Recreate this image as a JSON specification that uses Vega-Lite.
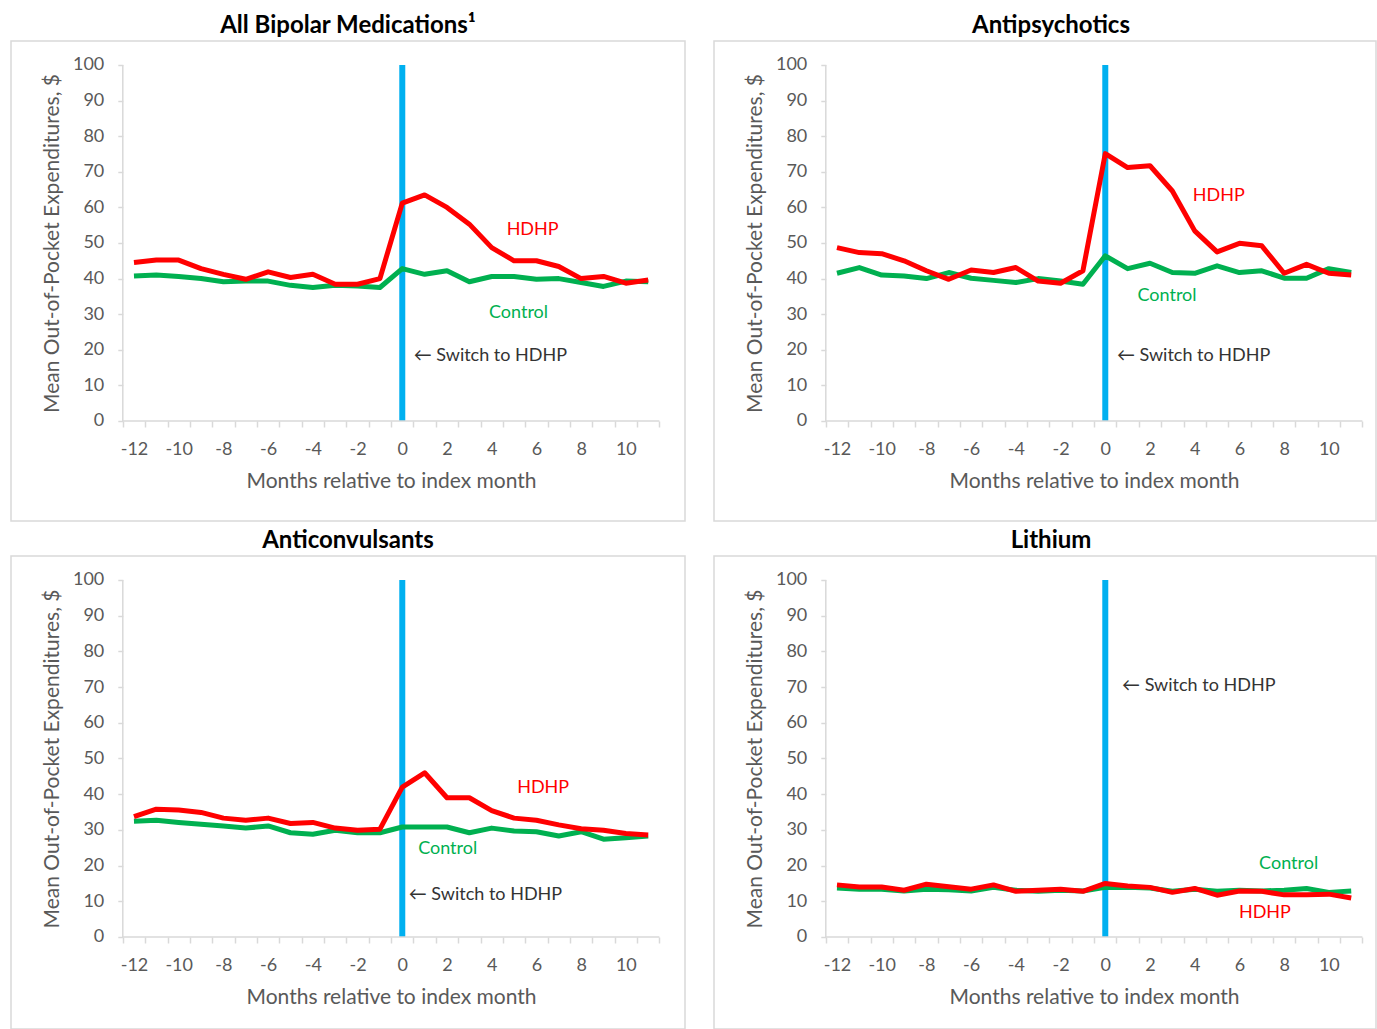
{
"$schema": "https://vega.github.io/schema/vega-lite/v6.json",
"padding": {"left": 10, "top": 13, "right": 0, "bottom": 0},
"background": "#ffffff",
"spacing": 6,
"datasets": {
"pts": [
{"panel":"A","month":-12,"series":"HDHP","value":44.5},{"panel":"A","month":-11,"series":"HDHP","value":45.2},{"panel":"A","month":-10,"series":"HDHP","value":45.2},{"panel":"A","month":-9,"series":"HDHP","value":42.8},{"panel":"A","month":-8,"series":"HDHP","value":41.2},{"panel":"A","month":-7,"series":"HDHP","value":39.8},{"panel":"A","month":-6,"series":"HDHP","value":41.9},{"panel":"A","month":-5,"series":"HDHP","value":40.3},{"panel":"A","month":-4,"series":"HDHP","value":41.2},{"panel":"A","month":-3,"series":"HDHP","value":38.4},{"panel":"A","month":-2,"series":"HDHP","value":38.4},{"panel":"A","month":-1,"series":"HDHP","value":40.0},{"panel":"A","month":0,"series":"HDHP","value":61.2},{"panel":"A","month":1,"series":"HDHP","value":63.5},{"panel":"A","month":2,"series":"HDHP","value":60.0},{"panel":"A","month":3,"series":"HDHP","value":55.3},{"panel":"A","month":4,"series":"HDHP","value":48.7},{"panel":"A","month":5,"series":"HDHP","value":45.0},{"panel":"A","month":6,"series":"HDHP","value":45.0},{"panel":"A","month":7,"series":"HDHP","value":43.4},{"panel":"A","month":8,"series":"HDHP","value":40.0},{"panel":"A","month":9,"series":"HDHP","value":40.6},{"panel":"A","month":10,"series":"HDHP","value":38.7},{"panel":"A","month":11,"series":"HDHP","value":39.6},
{"panel":"A","month":-12,"series":"Control","value":40.7},{"panel":"A","month":-11,"series":"Control","value":41.0},{"panel":"A","month":-10,"series":"Control","value":40.6},{"panel":"A","month":-9,"series":"Control","value":40.0},{"panel":"A","month":-8,"series":"Control","value":39.1},{"panel":"A","month":-7,"series":"Control","value":39.3},{"panel":"A","month":-6,"series":"Control","value":39.3},{"panel":"A","month":-5,"series":"Control","value":38.1},{"panel":"A","month":-4,"series":"Control","value":37.5},{"panel":"A","month":-3,"series":"Control","value":38.1},{"panel":"A","month":-2,"series":"Control","value":37.9},{"panel":"A","month":-1,"series":"Control","value":37.5},{"panel":"A","month":0,"series":"Control","value":42.8},{"panel":"A","month":1,"series":"Control","value":41.2},{"panel":"A","month":2,"series":"Control","value":42.2},{"panel":"A","month":3,"series":"Control","value":39.1},{"panel":"A","month":4,"series":"Control","value":40.6},{"panel":"A","month":5,"series":"Control","value":40.6},{"panel":"A","month":6,"series":"Control","value":39.8},{"panel":"A","month":7,"series":"Control","value":40.0},{"panel":"A","month":8,"series":"Control","value":38.9},{"panel":"A","month":9,"series":"Control","value":37.8},{"panel":"A","month":10,"series":"Control","value":39.3},{"panel":"A","month":11,"series":"Control","value":39.1},
{"panel":"B","month":-12,"series":"HDHP","value":48.7},{"panel":"B","month":-11,"series":"HDHP","value":47.3},{"panel":"B","month":-10,"series":"HDHP","value":47.0},{"panel":"B","month":-9,"series":"HDHP","value":45.0},{"panel":"B","month":-8,"series":"HDHP","value":42.2},{"panel":"B","month":-7,"series":"HDHP","value":39.8},{"panel":"B","month":-6,"series":"HDHP","value":42.4},{"panel":"B","month":-5,"series":"HDHP","value":41.7},{"panel":"B","month":-4,"series":"HDHP","value":43.1},{"panel":"B","month":-3,"series":"HDHP","value":39.3},{"panel":"B","month":-2,"series":"HDHP","value":38.7},{"panel":"B","month":-1,"series":"HDHP","value":42.2},{"panel":"B","month":0,"series":"HDHP","value":75.1},{"panel":"B","month":1,"series":"HDHP","value":71.2},{"panel":"B","month":2,"series":"HDHP","value":71.7},{"panel":"B","month":3,"series":"HDHP","value":64.6},{"panel":"B","month":4,"series":"HDHP","value":53.4},{"panel":"B","month":5,"series":"HDHP","value":47.5},{"panel":"B","month":6,"series":"HDHP","value":49.9},{"panel":"B","month":7,"series":"HDHP","value":49.2},{"panel":"B","month":8,"series":"HDHP","value":41.5},{"panel":"B","month":9,"series":"HDHP","value":44.0},{"panel":"B","month":10,"series":"HDHP","value":41.5},{"panel":"B","month":11,"series":"HDHP","value":41.0},
{"panel":"B","month":-12,"series":"Control","value":41.5},{"panel":"B","month":-11,"series":"Control","value":43.1},{"panel":"B","month":-10,"series":"Control","value":41.0},{"panel":"B","month":-9,"series":"Control","value":40.7},{"panel":"B","month":-8,"series":"Control","value":40.0},{"panel":"B","month":-7,"series":"Control","value":41.7},{"panel":"B","month":-6,"series":"Control","value":40.1},{"panel":"B","month":-5,"series":"Control","value":39.5},{"panel":"B","month":-4,"series":"Control","value":38.9},{"panel":"B","month":-3,"series":"Control","value":40.0},{"panel":"B","month":-2,"series":"Control","value":39.3},{"panel":"B","month":-1,"series":"Control","value":38.4},{"panel":"B","month":0,"series":"Control","value":46.4},{"panel":"B","month":1,"series":"Control","value":42.8},{"panel":"B","month":2,"series":"Control","value":44.3},{"panel":"B","month":3,"series":"Control","value":41.7},{"panel":"B","month":4,"series":"Control","value":41.5},{"panel":"B","month":5,"series":"Control","value":43.6},{"panel":"B","month":6,"series":"Control","value":41.7},{"panel":"B","month":7,"series":"Control","value":42.2},{"panel":"B","month":8,"series":"Control","value":40.1},{"panel":"B","month":9,"series":"Control","value":40.1},{"panel":"B","month":10,"series":"Control","value":42.8},{"panel":"B","month":11,"series":"Control","value":41.7},
{"panel":"C","month":-12,"series":"HDHP","value":33.7},{"panel":"C","month":-11,"series":"HDHP","value":35.8},{"panel":"C","month":-10,"series":"HDHP","value":35.6},{"panel":"C","month":-9,"series":"HDHP","value":34.9},{"panel":"C","month":-8,"series":"HDHP","value":33.3},{"panel":"C","month":-7,"series":"HDHP","value":32.7},{"panel":"C","month":-6,"series":"HDHP","value":33.3},{"panel":"C","month":-5,"series":"HDHP","value":31.8},{"panel":"C","month":-4,"series":"HDHP","value":32.1},{"panel":"C","month":-3,"series":"HDHP","value":30.5},{"panel":"C","month":-2,"series":"HDHP","value":29.9},{"panel":"C","month":-1,"series":"HDHP","value":30.2},{"panel":"C","month":0,"series":"HDHP","value":42.0},{"panel":"C","month":1,"series":"HDHP","value":46.0},{"panel":"C","month":2,"series":"HDHP","value":39.0},{"panel":"C","month":3,"series":"HDHP","value":39.0},{"panel":"C","month":4,"series":"HDHP","value":35.4},{"panel":"C","month":5,"series":"HDHP","value":33.3},{"panel":"C","month":6,"series":"HDHP","value":32.7},{"panel":"C","month":7,"series":"HDHP","value":31.4},{"panel":"C","month":8,"series":"HDHP","value":30.3},{"panel":"C","month":9,"series":"HDHP","value":29.9},{"panel":"C","month":10,"series":"HDHP","value":29.0},{"panel":"C","month":11,"series":"HDHP","value":28.6},
{"panel":"C","month":-12,"series":"Control","value":32.4},{"panel":"C","month":-11,"series":"Control","value":32.7},{"panel":"C","month":-10,"series":"Control","value":32.1},{"panel":"C","month":-9,"series":"Control","value":31.6},{"panel":"C","month":-8,"series":"Control","value":31.1},{"panel":"C","month":-7,"series":"Control","value":30.5},{"panel":"C","month":-6,"series":"Control","value":31.1},{"panel":"C","month":-5,"series":"Control","value":29.2},{"panel":"C","month":-4,"series":"Control","value":28.8},{"panel":"C","month":-3,"series":"Control","value":29.9},{"panel":"C","month":-2,"series":"Control","value":29.2},{"panel":"C","month":-1,"series":"Control","value":29.2},{"panel":"C","month":0,"series":"Control","value":30.8},{"panel":"C","month":1,"series":"Control","value":30.8},{"panel":"C","month":2,"series":"Control","value":30.8},{"panel":"C","month":3,"series":"Control","value":29.2},{"panel":"C","month":4,"series":"Control","value":30.5},{"panel":"C","month":5,"series":"Control","value":29.7},{"panel":"C","month":6,"series":"Control","value":29.5},{"panel":"C","month":7,"series":"Control","value":28.3},{"panel":"C","month":8,"series":"Control","value":29.5},{"panel":"C","month":9,"series":"Control","value":27.4},{"panel":"C","month":10,"series":"Control","value":27.8},{"panel":"C","month":11,"series":"Control","value":28.3},
{"panel":"D","month":-12,"series":"HDHP","value":14.6},{"panel":"D","month":-11,"series":"HDHP","value":14.0},{"panel":"D","month":-10,"series":"HDHP","value":14.0},{"panel":"D","month":-9,"series":"HDHP","value":13.1},{"panel":"D","month":-8,"series":"HDHP","value":14.8},{"panel":"D","month":-7,"series":"HDHP","value":14.1},{"panel":"D","month":-6,"series":"HDHP","value":13.4},{"panel":"D","month":-5,"series":"HDHP","value":14.6},{"panel":"D","month":-4,"series":"HDHP","value":12.8},{"panel":"D","month":-3,"series":"HDHP","value":13.1},{"panel":"D","month":-2,"series":"HDHP","value":13.4},{"panel":"D","month":-1,"series":"HDHP","value":12.8},{"panel":"D","month":0,"series":"HDHP","value":15.0},{"panel":"D","month":1,"series":"HDHP","value":14.3},{"panel":"D","month":2,"series":"HDHP","value":13.9},{"panel":"D","month":3,"series":"HDHP","value":12.5},{"panel":"D","month":4,"series":"HDHP","value":13.6},{"panel":"D","month":5,"series":"HDHP","value":11.7},{"panel":"D","month":6,"series":"HDHP","value":12.9},{"panel":"D","month":7,"series":"HDHP","value":12.8},{"panel":"D","month":8,"series":"HDHP","value":11.8},{"panel":"D","month":9,"series":"HDHP","value":11.8},{"panel":"D","month":10,"series":"HDHP","value":12.0},{"panel":"D","month":11,"series":"HDHP","value":10.9},
{"panel":"D","month":-12,"series":"Control","value":13.7},{"panel":"D","month":-11,"series":"Control","value":13.4},{"panel":"D","month":-10,"series":"Control","value":13.4},{"panel":"D","month":-9,"series":"Control","value":12.9},{"panel":"D","month":-8,"series":"Control","value":13.4},{"panel":"D","month":-7,"series":"Control","value":13.2},{"panel":"D","month":-6,"series":"Control","value":12.9},{"panel":"D","month":-5,"series":"Control","value":13.9},{"panel":"D","month":-4,"series":"Control","value":13.1},{"panel":"D","month":-3,"series":"Control","value":12.8},{"panel":"D","month":-2,"series":"Control","value":13.1},{"panel":"D","month":-1,"series":"Control","value":12.9},{"panel":"D","month":0,"series":"Control","value":13.9},{"panel":"D","month":1,"series":"Control","value":13.9},{"panel":"D","month":2,"series":"Control","value":13.7},{"panel":"D","month":3,"series":"Control","value":12.8},{"panel":"D","month":4,"series":"Control","value":13.4},{"panel":"D","month":5,"series":"Control","value":12.8},{"panel":"D","month":6,"series":"Control","value":13.1},{"panel":"D","month":7,"series":"Control","value":12.9},{"panel":"D","month":8,"series":"Control","value":13.1},{"panel":"D","month":9,"series":"Control","value":13.6},{"panel":"D","month":10,"series":"Control","value":12.5},{"panel":"D","month":11,"series":"Control","value":12.9}
],
"notes": [
{"panel":"A","series":"HDHP","label":"HDHP","month":5.83,"value":53.7},
{"panel":"A","series":"Control","label":"Control","month":5.2,"value":30.3},
{"panel":"A","series":"Switch","label":"← Switch to HDHP","month":0.51,"value":18.3},
{"panel":"B","series":"HDHP","label":"HDHP","month":5.08,"value":63.2},
{"panel":"B","series":"Control","label":"Control","month":2.76,"value":35.1},
{"panel":"B","series":"Switch","label":"← Switch to HDHP","month":0.52,"value":18.3},
{"panel":"C","series":"HDHP","label":"HDHP","month":6.3,"value":41.6},
{"panel":"C","series":"Control","label":"Control","month":2.03,"value":24.7},
{"panel":"C","series":"Switch","label":"← Switch to HDHP","month":0.29,"value":11.8},
{"panel":"D","series":"HDHP","label":"HDHP","month":7.14,"value":6.7},
{"panel":"D","series":"Control","label":"Control","month":8.2,"value":20.5},
{"panel":"D","series":"Switch","label":"← Switch to HDHP","month":0.75,"value":70.2}
],
"blue": [{"month":0,"value":0,"value2":100}],
"yline": [{"month":-12.5,"value":0,"value2":100}],
"xline": [{"month":-12.5,"month2":11.5,"value":0}]
},
"vconcat": [
{"spacing": 27, "hconcat": [
{"title": {"text": "All Bipolar Medications¹"}, "width": 674, "height": 480,
 "encoding": {
  "x": {"field": "month", "type": "quantitative", "scale": {"domain": [-17.5, 12.645], "nice": false, "zero": false},
   "axis": {"offset": -100, "title": "Months relative to index month", "values": [-12.5,-11.5,-10.5,-9.5,-8.5,-7.5,-6.5,-5.5,-4.5,-3.5,-2.5,-1.5,-0.5,0.5,1.5,2.5,3.5,4.5,5.5,6.5,7.5,8.5,9.5,10.5,11.5,-12,-10,-8,-6,-4,-2,0,2,4,6,8,10], "labelExpr": "datum.value % 2 === 0 ? '' + datum.value : ''", "tickOpacity": {"condition": {"test": "datum.value % 1 !== 0", "value": 1}, "value": 0}}},
  "y": {"field": "value", "type": "quantitative", "scale": {"domain": [-28.09, 106.74], "nice": false, "zero": false},
   "axis": {"offset": -111.8, "title": "Mean Out-of-Pocket Expenditures, $", "titleY": 202, "values": [0,10,20,30,40,50,60,70,80,90,100]}}
 },
 "layer": [
  {"data": {"name": "blue"}, "mark": {"type": "rule", "color": "#00B0F0", "strokeWidth": 6}, "encoding": {"y2": {"field": "value2"}}},
  {"data": {"name": "yline"}, "mark": {"type": "rule", "color": "#D9D9D9", "strokeWidth": 1.5}, "encoding": {"y2": {"field": "value2"}}},
  {"data": {"name": "xline"}, "mark": {"type": "rule", "color": "#D9D9D9", "strokeWidth": 1.5}, "encoding": {"x2": {"field": "month2"}}},
  {"data": {"name": "pts"}, "transform": [{"filter": "datum.panel === 'A' && datum.series === 'Control'"}], "mark": {"type": "line", "strokeWidth": 5, "strokeJoin": "round"}, "encoding": {"color": {"field": "series", "type": "nominal", "scale": {"domain": ["HDHP", "Control"], "range": ["#FF0000", "#00B050"]}, "legend": null}}},
  {"data": {"name": "pts"}, "transform": [{"filter": "datum.panel === 'A' && datum.series === 'HDHP'"}], "mark": {"type": "line", "strokeWidth": 5, "strokeJoin": "round"}, "encoding": {"color": {"field": "series", "type": "nominal", "legend": null}}},
  {"data": {"name": "notes"}, "transform": [{"filter": "datum.panel === 'A' && datum.series !== 'Switch'"}], "mark": {"type": "text", "fontSize": 18, "align": "center", "baseline": "middle"}, "encoding": {"text": {"field": "label"}, "color": {"field": "series", "type": "nominal", "legend": null}}},
  {"data": {"name": "notes"}, "transform": [{"filter": "datum.panel === 'A' && datum.series === 'Switch'"}], "mark": {"type": "text", "fontSize": 18, "align": "left", "baseline": "middle", "color": "#333333"}, "encoding": {"text": {"field": "label"}}}
 ]},
{"title": {"text": "Antipsychotics", "dx": 6}, "width": 662, "height": 480,
 "encoding": {
  "x": {"field": "month", "type": "quantitative", "scale": {"domain": [-17.5, 12.108], "nice": false, "zero": false},
   "axis": {"offset": -100, "title": "Months relative to index month", "values": [-12.5,-11.5,-10.5,-9.5,-8.5,-7.5,-6.5,-5.5,-4.5,-3.5,-2.5,-1.5,-0.5,0.5,1.5,2.5,3.5,4.5,5.5,6.5,7.5,8.5,9.5,10.5,11.5,-12,-10,-8,-6,-4,-2,0,2,4,6,8,10], "labelExpr": "datum.value % 2 === 0 ? '' + datum.value : ''", "tickOpacity": {"condition": {"test": "datum.value % 1 !== 0", "value": 1}, "value": 0}}},
  "y": {"field": "value", "type": "quantitative", "scale": {"domain": [-28.09, 106.74], "nice": false, "zero": false},
   "axis": {"offset": -111.8, "title": "Mean Out-of-Pocket Expenditures, $", "titleY": 202, "values": [0,10,20,30,40,50,60,70,80,90,100]}}
 },
 "layer": [
  {"data": {"name": "blue"}, "mark": {"type": "rule", "color": "#00B0F0", "strokeWidth": 6}, "encoding": {"y2": {"field": "value2"}}},
  {"data": {"name": "yline"}, "mark": {"type": "rule", "color": "#D9D9D9", "strokeWidth": 1.5}, "encoding": {"y2": {"field": "value2"}}},
  {"data": {"name": "xline"}, "mark": {"type": "rule", "color": "#D9D9D9", "strokeWidth": 1.5}, "encoding": {"x2": {"field": "month2"}}},
  {"data": {"name": "pts"}, "transform": [{"filter": "datum.panel === 'B' && datum.series === 'Control'"}], "mark": {"type": "line", "strokeWidth": 5, "strokeJoin": "round"}, "encoding": {"color": {"field": "series", "type": "nominal", "scale": {"domain": ["HDHP", "Control"], "range": ["#FF0000", "#00B050"]}, "legend": null}}},
  {"data": {"name": "pts"}, "transform": [{"filter": "datum.panel === 'B' && datum.series === 'HDHP'"}], "mark": {"type": "line", "strokeWidth": 5, "strokeJoin": "round"}, "encoding": {"color": {"field": "series", "type": "nominal", "legend": null}}},
  {"data": {"name": "notes"}, "transform": [{"filter": "datum.panel === 'B' && datum.series !== 'Switch'"}], "mark": {"type": "text", "fontSize": 18, "align": "center", "baseline": "middle"}, "encoding": {"text": {"field": "label"}, "color": {"field": "series", "type": "nominal", "legend": null}}},
  {"data": {"name": "notes"}, "transform": [{"filter": "datum.panel === 'B' && datum.series === 'Switch'"}], "mark": {"type": "text", "fontSize": 18, "align": "left", "baseline": "middle", "color": "#333333"}, "encoding": {"text": {"field": "label"}}}
 ]}
]},
{"spacing": 27, "hconcat": [
{"title": {"text": "Anticonvulsants"}, "width": 674, "height": 473,
 "encoding": {
  "x": {"field": "month", "type": "quantitative", "scale": {"domain": [-17.5, 12.645], "nice": false, "zero": false},
   "axis": {"offset": -92, "title": "Months relative to index month", "values": [-12.5,-11.5,-10.5,-9.5,-8.5,-7.5,-6.5,-5.5,-4.5,-3.5,-2.5,-1.5,-0.5,0.5,1.5,2.5,3.5,4.5,5.5,6.5,7.5,8.5,9.5,10.5,11.5,-12,-10,-8,-6,-4,-2,0,2,4,6,8,10], "labelExpr": "datum.value % 2 === 0 ? '' + datum.value : ''", "tickOpacity": {"condition": {"test": "datum.value % 1 !== 0", "value": 1}, "value": 0}}},
  "y": {"field": "value", "type": "quantitative", "scale": {"domain": [-25.77, 106.72], "nice": false, "zero": false},
   "axis": {"offset": -111.8, "title": "Mean Out-of-Pocket Expenditures, $", "titleY": 202.5, "values": [0,10,20,30,40,50,60,70,80,90,100]}}
 },
 "layer": [
  {"data": {"name": "blue"}, "mark": {"type": "rule", "color": "#00B0F0", "strokeWidth": 6}, "encoding": {"y2": {"field": "value2"}}},
  {"data": {"name": "yline"}, "mark": {"type": "rule", "color": "#D9D9D9", "strokeWidth": 1.5}, "encoding": {"y2": {"field": "value2"}}},
  {"data": {"name": "xline"}, "mark": {"type": "rule", "color": "#D9D9D9", "strokeWidth": 1.5}, "encoding": {"x2": {"field": "month2"}}},
  {"data": {"name": "pts"}, "transform": [{"filter": "datum.panel === 'C' && datum.series === 'Control'"}], "mark": {"type": "line", "strokeWidth": 5, "strokeJoin": "round"}, "encoding": {"color": {"field": "series", "type": "nominal", "scale": {"domain": ["HDHP", "Control"], "range": ["#FF0000", "#00B050"]}, "legend": null}}},
  {"data": {"name": "pts"}, "transform": [{"filter": "datum.panel === 'C' && datum.series === 'HDHP'"}], "mark": {"type": "line", "strokeWidth": 5, "strokeJoin": "round"}, "encoding": {"color": {"field": "series", "type": "nominal", "legend": null}}},
  {"data": {"name": "notes"}, "transform": [{"filter": "datum.panel === 'C' && datum.series !== 'Switch'"}], "mark": {"type": "text", "fontSize": 18, "align": "center", "baseline": "middle"}, "encoding": {"text": {"field": "label"}, "color": {"field": "series", "type": "nominal", "legend": null}}},
  {"data": {"name": "notes"}, "transform": [{"filter": "datum.panel === 'C' && datum.series === 'Switch'"}], "mark": {"type": "text", "fontSize": 18, "align": "left", "baseline": "middle", "color": "#333333"}, "encoding": {"text": {"field": "label"}}}
 ]},
{"title": {"text": "Lithium", "dx": 6}, "width": 662, "height": 473,
 "encoding": {
  "x": {"field": "month", "type": "quantitative", "scale": {"domain": [-17.5, 12.108], "nice": false, "zero": false},
   "axis": {"offset": -92, "title": "Months relative to index month", "values": [-12.5,-11.5,-10.5,-9.5,-8.5,-7.5,-6.5,-5.5,-4.5,-3.5,-2.5,-1.5,-0.5,0.5,1.5,2.5,3.5,4.5,5.5,6.5,7.5,8.5,9.5,10.5,11.5,-12,-10,-8,-6,-4,-2,0,2,4,6,8,10], "labelExpr": "datum.value % 2 === 0 ? '' + datum.value : ''", "tickOpacity": {"condition": {"test": "datum.value % 1 !== 0", "value": 1}, "value": 0}}},
  "y": {"field": "value", "type": "quantitative", "scale": {"domain": [-25.77, 106.72], "nice": false, "zero": false},
   "axis": {"offset": -111.8, "title": "Mean Out-of-Pocket Expenditures, $", "titleY": 202.5, "values": [0,10,20,30,40,50,60,70,80,90,100]}}
 },
 "layer": [
  {"data": {"name": "blue"}, "mark": {"type": "rule", "color": "#00B0F0", "strokeWidth": 6}, "encoding": {"y2": {"field": "value2"}}},
  {"data": {"name": "yline"}, "mark": {"type": "rule", "color": "#D9D9D9", "strokeWidth": 1.5}, "encoding": {"y2": {"field": "value2"}}},
  {"data": {"name": "xline"}, "mark": {"type": "rule", "color": "#D9D9D9", "strokeWidth": 1.5}, "encoding": {"x2": {"field": "month2"}}},
  {"data": {"name": "pts"}, "transform": [{"filter": "datum.panel === 'D' && datum.series === 'Control'"}], "mark": {"type": "line", "strokeWidth": 5, "strokeJoin": "round"}, "encoding": {"color": {"field": "series", "type": "nominal", "scale": {"domain": ["HDHP", "Control"], "range": ["#FF0000", "#00B050"]}, "legend": null}}},
  {"data": {"name": "pts"}, "transform": [{"filter": "datum.panel === 'D' && datum.series === 'HDHP'"}], "mark": {"type": "line", "strokeWidth": 5, "strokeJoin": "round"}, "encoding": {"color": {"field": "series", "type": "nominal", "legend": null}}},
  {"data": {"name": "notes"}, "transform": [{"filter": "datum.panel === 'D' && datum.series !== 'Switch'"}], "mark": {"type": "text", "fontSize": 18, "align": "center", "baseline": "middle"}, "encoding": {"text": {"field": "label"}, "color": {"field": "series", "type": "nominal", "legend": null}}},
  {"data": {"name": "notes"}, "transform": [{"filter": "datum.panel === 'D' && datum.series === 'Switch'"}], "mark": {"type": "text", "fontSize": 18, "align": "left", "baseline": "middle", "color": "#333333"}, "encoding": {"text": {"field": "label"}}}
 ]}
]}
],
"config": {
 "font": "Lato",
 "view": {"stroke": "#D9D9D9", "strokeWidth": 1.5},
 "title": {"font": "Lato", "fontSize": 24, "fontWeight": "bold", "color": "#000000", "offset": 3, "anchor": "middle"},
 "axis": {"domain": false, "grid": false, "tickColor": "#D9D9D9", "tickWidth": 1.5, "labelColor": "#595959", "labelFontSize": 18, "labelFont": "Lato", "titleColor": "#595959", "titleFontSize": 21, "titleFontWeight": "normal", "titleFont": "Lato"},
 "axisX": {"tickSize": 6, "labelPadding": 13, "labelOverlap": false, "labelFlush": false, "titleX": 380, "titleY": 60, "titleAlign": "center", "titleBaseline": "middle"},
 "axisY": {"tickSize": 5, "labelPadding": 14, "titleX": -70, "titleAlign": "center", "titleBaseline": "middle"}
}
}
